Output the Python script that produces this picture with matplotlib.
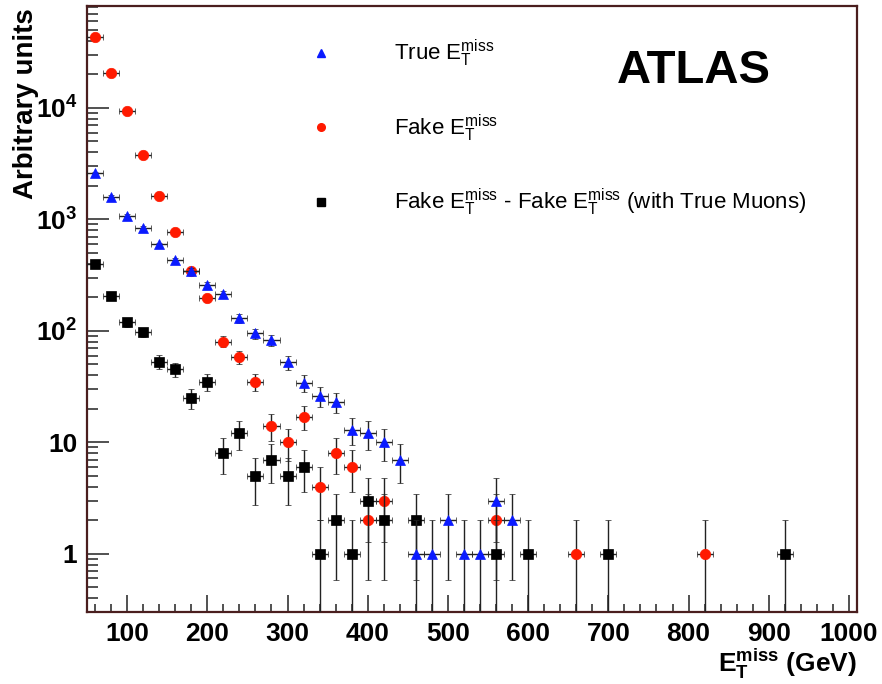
#draws the true / fake missing-ET spectra on a log scale, ROOT style
import numpy as np
import matplotlib.pyplot as plt
from matplotlib.lines import Line2D
from matplotlib.ticker import FixedLocator, FixedFormatter, MultipleLocator, LogLocator, NullFormatter

plt.rcParams['font.family'] = ['Liberation Sans', 'DejaVu Sans']
plt.rcParams['mathtext.fontset'] = 'custom'
plt.rcParams['mathtext.rm'] = 'Liberation Sans'
plt.rcParams['mathtext.it'] = 'Liberation Sans:italic'
plt.rcParams['mathtext.bf'] = 'Liberation Sans:bold'

# bin centres (GeV) and bin contents, 20 GeV bins
fake_x = [60, 80, 100, 120, 140, 160, 180, 200, 220, 240, 260, 280, 300, 320,
          340, 360, 380, 400, 420, 560, 660, 820]
fake_y = [43500, 20700, 9300, 3800, 1630, 775, 345, 195, 80, 58, 35, 14, 10, 17,
          4, 8, 6, 2, 3, 2, 1, 1]

true_x = [60, 80, 100, 120, 140, 160, 180, 200, 220, 240, 260, 280, 300, 320,
          340, 360, 380, 400, 420, 440, 460, 480, 500, 520, 540, 560, 580]
true_y = [2620, 1600, 1080, 840, 595, 428, 345, 260, 212, 130, 95, 82, 52, 34,
          26, 23, 13, 12, 10, 7, 1, 1, 2, 1, 1, 3, 2]

diff_x = [60, 80, 100, 120, 140, 160, 180, 200, 220, 240, 260, 280, 300, 320,
          340, 360, 380, 400, 420, 460, 560, 600, 700, 920]
diff_y = [400, 206, 120, 97, 53, 45, 25, 35, 8, 12, 5, 7, 5, 6,
          1, 2, 1, 3, 2, 2, 1, 1, 1, 1]

bin_half = 10
leg_labels = [r'True $\mathrm{E_T^{miss}}$',
              r'Fake $\mathrm{E_T^{miss}}$',
              r'Fake $\mathrm{E_T^{miss}}$ - Fake $\mathrm{E_T^{miss}}$ (with True Muons)']
y_ticks = [1, 10, 100, 1000, 10000]
y_ticklabels = ['1', '10', r'$\mathbf{10^{2}}$', r'$\mathbf{10^{3}}$', r'$\mathbf{10^{4}}$']

fig = plt.figure(figsize=(8.82, 6.84), dpi=100)
ax = fig.add_axes([87/882, 1-612/684, 770/882, 606/684])
ax.set_yscale('log', nonpositive='clip')


def DrawHist(x, y, marker, color, z):
    y = np.array(y, dtype=float)
    ax.errorbar(x, y, yerr=np.sqrt(y), xerr=bin_half, fmt=marker, color=color,
                ms=7.5, mec=color, mew=0.5, ecolor='#222222', elinewidth=1.0,
                capsize=2.2, capthick=1.0, zorder=z)


DrawHist(fake_x, fake_y, 'o', '#ff1a00', 3)
DrawHist(diff_x, diff_y, 's', 'black', 4)
DrawHist(true_x, true_y, '^', '#0a1aff', 5)

ax.set_xlim(50, 1010)
ax.set_ylim(0.3, 82000)

ax.xaxis.set_major_locator(MultipleLocator(100))
ax.xaxis.set_minor_locator(MultipleLocator(20))
ax.yaxis.set_major_locator(FixedLocator(y_ticks))
ax.yaxis.set_major_formatter(FixedFormatter(y_ticklabels))
ax.yaxis.set_minor_locator(LogLocator(base=10, subs=np.arange(2, 10), numticks=20))
ax.yaxis.set_minor_formatter(NullFormatter())

ax.tick_params(axis='both', which='both', direction='in', top=False, right=False,
               color='#222222', width=1.1, labelsize=19)
ax.tick_params(axis='y', which='major', length=16, pad=7)
ax.tick_params(axis='y', which='minor', length=8)
ax.tick_params(axis='x', which='major', length=12, pad=7)
ax.tick_params(axis='x', which='minor', length=6)
for lab in ax.get_xticklabels() + ax.get_yticklabels():
    lab.set_fontweight('bold')

for sp in ax.spines.values():
    sp.set_color('#4a1e1e')
    sp.set_linewidth(1.6)

handles = [Line2D([], [], ls='none', marker='^', color='#0a1aff', ms=5.5),
           Line2D([], [], ls='none', marker='o', color='#ff1a00', ms=5.5),
           Line2D([], [], ls='none', marker='s', color='black', ms=5.5)]
ax.legend(handles, leg_labels, loc='upper left', bbox_to_anchor=(310/882, 1-38/684),
          bbox_transform=fig.transFigure, frameon=False, fontsize=16,
          handlelength=1.0, handletextpad=2.8, labelspacing=1.95,
          borderpad=0, borderaxespad=0)

fig.text(617/882, 1-83/684, 'ATLAS', fontsize=34, fontweight='bold', va='baseline')
fig.text(0.030, 1-8/684, 'Arbitrary units', rotation=90, ha='center', va='top',
         fontsize=20, fontweight='bold')
fig.text(857/882, 1-672/684, r'$\mathbf{E_T^{miss}}$ (GeV)', ha='right', va='baseline',
         fontsize=19, fontweight='bold')

plt.savefig('out.png', dpi=100)
